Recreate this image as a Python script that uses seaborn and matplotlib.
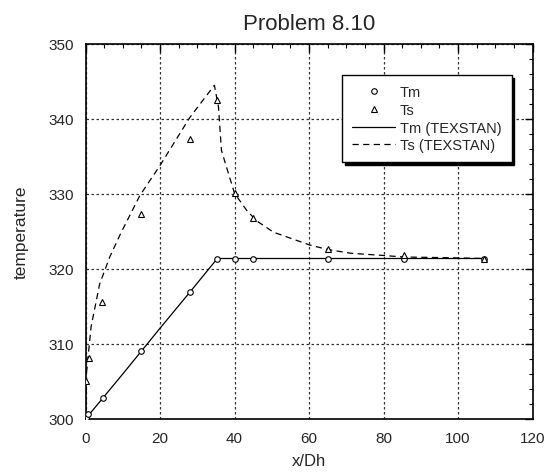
import matplotlib
matplotlib.use("Agg")
import matplotlib.pyplot as plt
import seaborn as sns
import pandas as pd
from matplotlib.ticker import MultipleLocator

# measured data
tm_x = [0, 0.7, 4.6, 15, 28, 35.4, 40, 45, 65, 85.4, 107]
tm_y = [300.2, 300.7, 302.8, 309.1, 316.9, 321.4, 321.4, 321.4, 321.4, 321.4, 321.4]
ts_x = [0.2, 0.9, 4.4, 15, 28, 35.4, 40, 45, 65, 85.4, 107]
ts_y = [305.1, 308.1, 315.6, 327.3, 337.4, 342.5, 330.1, 326.8, 322.6, 321.8, 321.4]

# TEXSTAN curves
tmx_line = [0, 10, 20, 28, 35.4, 50, 70, 90, 107]
tmy_line = [300.0, 306.0, 312.1, 316.9, 321.4, 321.4, 321.4, 321.4, 321.4]
tsx_line = [0, 0.2, 1.5, 3.8, 6.5, 9.6, 14.6, 20, 28, 34.6, 35.7, 36.5, 38.4, 40,
            43.3, 46, 50.5, 60.2, 65, 71.2, 80.1, 85.4, 98, 107]
tsy_line = [300.5, 305.8, 312.3, 318.0, 321.6, 324.9, 329.8, 333.8, 340.2, 344.5,
            341.6, 335.8, 332.7, 330.1, 327.8, 326.4, 324.9, 323.2, 322.6, 322.1,
            321.8, 321.6, 321.5, 321.4]

sns.set_style("white")
plt.rcParams['font.family'] = ['Liberation Sans', 'DejaVu Sans']

fig = plt.figure(figsize=(5.47, 4.77), dpi=100)
ax = fig.add_axes([85.5 / 547, 1 - 420 / 477, 447 / 547, 375 / 477])

d_tm = pd.DataFrame({"x": tm_x, "y": tm_y})
d_ts = pd.DataFrame({"x": ts_x, "y": ts_y})
l_tm = pd.DataFrame({"x": tmx_line, "y": tmy_line})
l_ts = pd.DataFrame({"x": tsx_line, "y": tsy_line})

ax.plot(d_tm.x, d_tm.y, linestyle='none', marker='o', ms=4, mfc='white', mec='black', mew=0.8, label='Tm', zorder=4)
ax.plot(d_ts.x, d_ts.y, linestyle='none', marker='^', ms=4, mfc='white', mec='black', mew=0.8, label='Ts', zorder=4)
sns.lineplot(data=l_tm, x="x", y="y", ax=ax, color='black', lw=0.9, label='Tm (TEXSTAN)', sort=False, estimator=None)
sns.lineplot(data=l_ts, x="x", y="y", ax=ax, color='black', lw=0.9, label='Ts (TEXSTAN)', sort=False, estimator=None,
             linestyle=(0, (5, 3.5)))

ax.set_xlim(0, 120)
ax.set_ylim(300, 350)
ax.xaxis.set_major_locator(MultipleLocator(20))
ax.xaxis.set_minor_locator(MultipleLocator(5))
ax.yaxis.set_major_locator(MultipleLocator(10))
ax.yaxis.set_minor_locator(MultipleLocator(2))
ax.tick_params(which='both', direction='in', top=True, right=True, labelsize=11, color='black', pad=8.5)
ax.tick_params(which='major', length=6, width=1)
ax.tick_params(which='minor', length=3, width=0.8)
ax.grid(True, which='major', linestyle=(0, (2, 2)), color='#333333', lw=0.9)
for s in ax.spines.values():
    s.set_color('black')
    s.set_linewidth(1.2)

ax.set_xlabel('x/Dh', fontsize=12, labelpad=6)
ax.set_ylabel('temperature', fontsize=12.5, labelpad=14)
ax.set_title('Problem 8.10', fontsize=16, pad=11)

leg = ax.legend(loc='upper right', bbox_to_anchor=(0.9535, 0.917), borderaxespad=0, fontsize=10.5,
                frameon=True, fancybox=False, edgecolor='black', framealpha=1,
                shadow={'color': 'black', 'alpha': 1}, handlelength=2.9,
                borderpad=0.7, labelspacing=0.25, handletextpad=0.35)
leg.get_frame().set_linewidth(1.0)

fig.savefig('out.png', dpi=100)
